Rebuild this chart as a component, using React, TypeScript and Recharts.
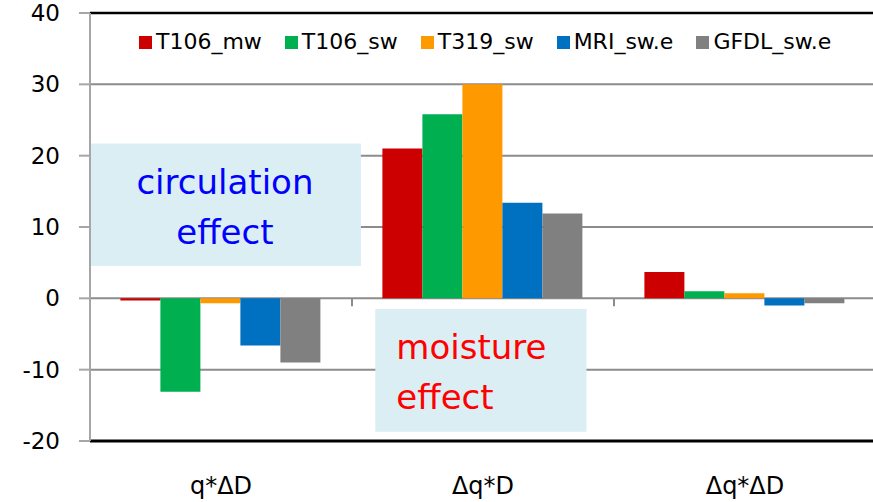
import React from 'react';
import {
  BarChart,
  Bar,
  XAxis,
  YAxis,
  CartesianGrid,
  Legend,
  ReferenceLine,
  ReferenceArea,
} from 'recharts';

// Decomposition terms on the category axis
const categories = ['q*ΔD', 'Δq*D', 'Δq*ΔD'];

// Experiments (series) and their colours
const seriesNames = ['T106_mw', 'T106_sw', 'T319_sw', 'MRI_sw.e', 'GFDL_sw.e'];
const seriesColors = ['#CC0000', '#00B050', '#FF9900', '#0070C0', '#808080'];

// Values per experiment, one entry per category
const t106Mw = [-0.3, 21.0, 3.7];
const t106Sw = [-13.1, 25.8, 1.0];
const t319Sw = [-0.7, 30.0, 0.7];
const mriSwE = [-6.6, 13.4, -1.0];
const gfdlSwE = [-9.0, 11.9, -0.7];

const yTicks = [-20, -10, 0, 10, 20, 30, 40];

const seriesValues = [t106Mw, t106Sw, t319Sw, mriSwE, gfdlSwE];

const data = categories.map((name, i) => {
  const row: Record<string, string | number> = { name };
  seriesNames.forEach((s, k) => {
    row[s] = seriesValues[k][i];
  });
  return row;
});

const FONT = '"DejaVu Sans", sans-serif';
const GRID = '#8C8C8C';

const LegendRow = () => (
  <div
    style={{
      display: 'flex',
      flexDirection: 'row',
      gap: 23,
      fontFamily: FONT,
      fontSize: 22,
      lineHeight: '22px',
      color: '#000',
      whiteSpace: 'nowrap',
    }}
  >
    {seriesNames.map((s, i) => (
      <div key={s} style={{ display: 'flex', alignItems: 'center' }}>
        <span
          style={{
            display: 'inline-block',
            width: 13,
            height: 13,
            background: seriesColors[i],
            marginRight: 4,
          }}
        />
        <span>{s}</span>
      </div>
    ))}
  </div>
);

// Text box placed inside a category band; `from`/`to` are fractions of the band width
const makeBox =
  (lines: string[], color: string, align: 'center' | 'left', from: number, to: number) =>
  (p: any) => {
    const { x, y, width, height } = p;
    const left = x + from * width;
    const right = x + to * width;
    const tx = align === 'center' ? (left + right) / 2 : left + 21;
    return (
      <g>
        <rect x={left} y={y} width={right - left} height={height} fill="#DAEEF3" />
        {lines.map((t, i) => (
          <text
            key={t}
            x={tx}
            y={y + 50 + i * 50}
            textAnchor={align === 'center' ? 'middle' : 'start'}
            fill={color}
            fontFamily={FONT}
            fontSize={34}
          >
            {t}
          </text>
        ))}
      </g>
    );
  };

// Short tick marks on the zero line at the boundaries between categories
const BoundaryTicks = (p: any) => {
  const { x, y, width, height } = p;
  const n = categories.length;
  const marks = [];
  for (let k = 1; k < n; k++) {
    const bx = x + (k * width) / n;
    marks.push(
      <line key={k} x1={bx} x2={bx} y1={y} y2={y + height} stroke={GRID} strokeWidth={2} />
    );
  }
  return <g>{marks}</g>;
};

export default function App() {
  return (
    <div
      style={{
        position: 'absolute',
        left: 0,
        top: 0,
        width: 873,
        height: 502,
        overflow: 'hidden',
        background: '#fff',
      }}
    >
      <BarChart
        width={890}
        height={502}
        data={data}
        margin={{ top: 13, right: 14, bottom: 0, left: 0 }}
        barCategoryGap="11.6%"
        barGap={0}
      >
        <CartesianGrid horizontal vertical={false} stroke={GRID} strokeWidth={2} />
        <XAxis
          dataKey="name"
          height={61}
          axisLine={{ stroke: '#000', strokeWidth: 3 }}
          tickLine={false}
          tickSize={0}
          tickMargin={36}
          tick={{ fill: '#000', fontSize: 24, fontFamily: FONT }}
        />
        <YAxis
          width={90}
          domain={[-20, 40]}
          ticks={yTicks}
          interval={0}
          allowDataOverflow
          axisLine={{ stroke: '#A6A6A6', strokeWidth: 2 }}
          tickLine={{ stroke: '#A6A6A6', strokeWidth: 2 }}
          tickSize={11}
          tickMargin={19}
          tick={{ fill: '#000', fontSize: 23, fontFamily: FONT }}
        />
        <ReferenceLine y={40} stroke="#000" strokeWidth={2.5} />
        <ReferenceArea
          x1={categories[0]}
          x2={categories[0]}
          y1={21.7}
          y2={4.55}
          shape={makeBox(['circulation', 'effect'], '#0000FF', 'center', -0.004, 1.034)}
        />
        <ReferenceArea
          x1={categories[1]}
          x2={categories[1]}
          y1={-1.5}
          y2={-18.7}
          shape={makeBox(['moisture', 'effect'], '#FF0000', 'left', 0.089, 0.895)}
        />
        <ReferenceArea
          x1={categories[0]}
          x2={categories[categories.length - 1]}
          y1={0}
          y2={-1.12}
          shape={BoundaryTicks}
        />
        <Legend
          verticalAlign="middle"
          align="center"
          layout="horizontal"
          content={() => <LegendRow />}
          wrapperStyle={{ position: 'absolute', top: 31, left: 139, width: 'auto', height: 22 }}
        />
        {seriesNames.map((s, i) => (
          <Bar key={s} dataKey={s} fill={seriesColors[i]} isAnimationActive={false} />
        ))}
      </BarChart>
    </div>
  );
}
